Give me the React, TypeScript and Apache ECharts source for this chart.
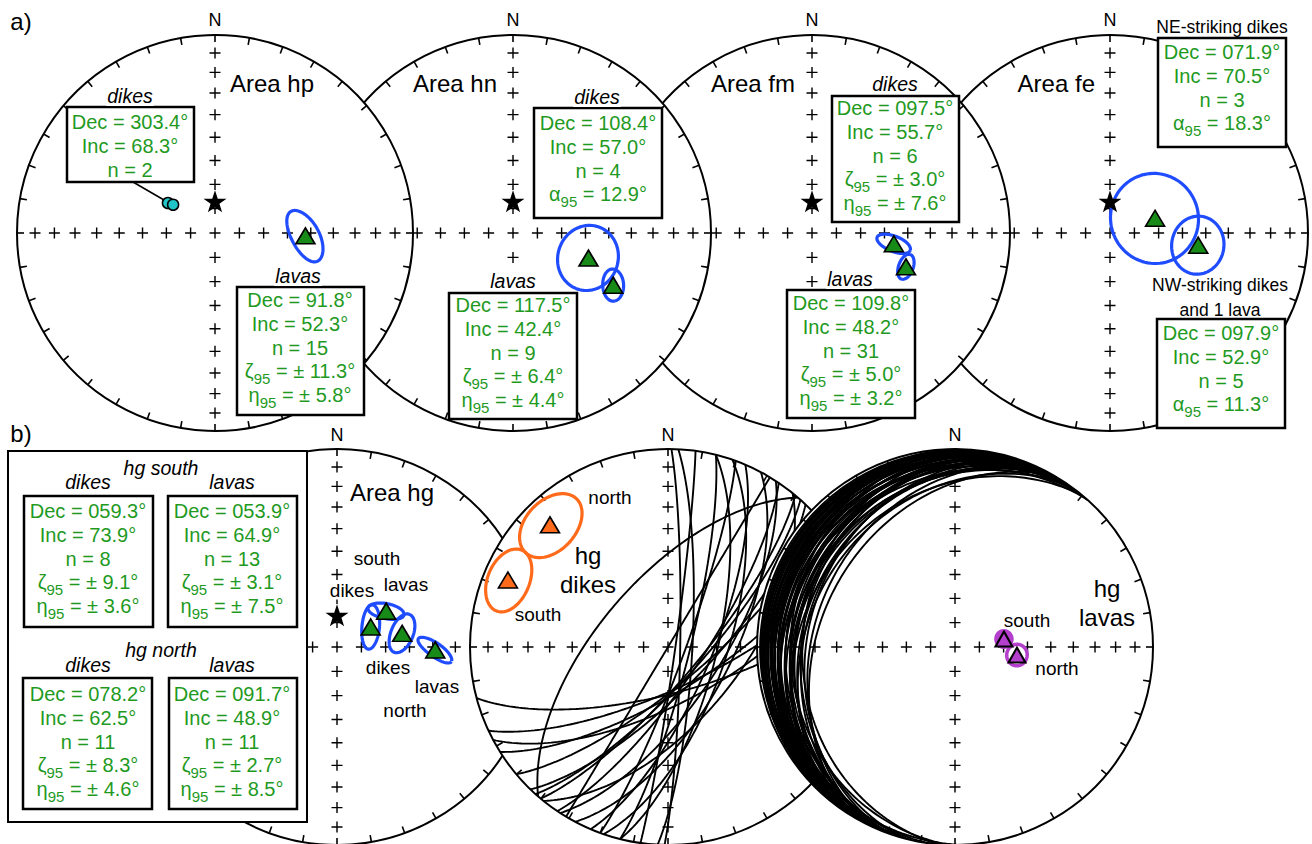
import React, { useEffect, useRef } from "react";
import * as echarts from "echarts";

const FONT = "'Liberation Sans', Arial, Helvetica, sans-serif";
const GREEN_TEXT = "#1f9a1f";
const GREEN_FILL = "#178a17";
const BLUE = "#1f4cff";
const CYAN = "#20c5c8";
const ORANGE = "#ff6b1a";
const MAGENTA = "#b43fcc";

const R = 198;
// panels: 0 hp, 1 hn, 2 fm, 3 fe, 4 hg, 5 hg dikes, 6 hg lavas
const panelCenters: number[][] = [[215, 233], [513, 233], [812, 233], [1110, 233], [337, 647], [668, 647], [955, 647]];
const panelZ = [40, 30, 20, 10, 10, 20, 30];

// expected direction (star)
const starPanels = [0, 1, 2, 3, 4];
const starDec = 0;
const starInc = 77;

// axis "+" marks (inclination values along N, E, S, W) and primitive ticks (azimuths)
const incTicks = [80, 70, 60, 50, 40, 30, 20, 10];
const axisAz = [0, 90, 180, 270];
const rimTickAz = [0, 10, 20, 30, 40, 50, 60, 70, 80, 90, 100, 110, 120, 130, 140, 150, 160, 170, 180, 190, 200, 210, 220, 230, 240, 250, 260, 270, 280, 290, 300, 310, 320, 330, 340, 350];

// green mean directions
const meanPanel = [0, 1, 1, 2, 2, 3, 3, 4, 4, 4, 4];
const meanDec = [91.8, 108.4, 117.5, 97.5, 109.8, 71.9, 97.9, 59.3, 53.9, 78.2, 91.7];
const meanInc = [52.3, 57.0, 42.4, 55.7, 48.2, 70.5, 52.9, 73.9, 64.9, 62.5, 48.9];

// hp individual dikes (cyan)
const hpDikeDec = [302.5, 304.0];
const hpDikeInc = [67.0, 69.2];

// hg dikes mean poles (orange): north, south
const poleDec = [316, 292.7];
const poleInc = [15.3, 13.4];

// hg lavas means (magenta): south, north
const lavaMeanDec = [80.7, 97.4];
const lavaMeanInc = [69.6, 64.2];

// confidence ellipses / circles: semi-angles a (along screen azimuth psi) and b
const ellPanel = [0, 1, 1, 2, 2, 3, 3, 4, 4, 4, 4, 5, 5, 6, 6];
const ellDec = [91.8, 108.4, 117.5, 97.5, 109.8, 71.9, 97.9, 59.3, 53.9, 78.2, 91.7, 316, 292.7, 80.7, 97.4];
const ellInc = [52.3, 57.0, 42.4, 55.7, 48.2, 70.5, 52.9, 73.9, 64.9, 62.5, 48.9, 15.3, 13.4, 69.6, 64.2];
const ellA = [11.3, 12.9, 6.4, 7.6, 5.0, 18.3, 11.3, 9.1, 7.5, 8.3, 8.5, 12, 10.6, 2.6, 4.3];
const ellB = [5.8, 12.9, 4.4, 3.0, 3.2, 18.3, 11.3, 3.6, 3.1, 4.6, 2.7, 13, 10.9, 2.6, 4.3];
const ellPsi = [147, 0, 165, 110, 20, 0, 0, 6, 99, 25, 121, 61, 21, 0, 0];
const ellColor = [BLUE, BLUE, BLUE, BLUE, BLUE, BLUE, BLUE, BLUE, BLUE, BLUE, BLUE, ORANGE, ORANGE, MAGENTA, MAGENTA];
const ellWidth = [3.2, 3.2, 3.2, 3.2, 3.2, 3.2, 3.2, 3.2, 3.2, 3.2, 3.2, 3.2, 3.2, 7, 3.5];

// hg dikes: planes (strike, dip; right-hand rule)
const dikeStrike = [75, 65, 58, 50, 44, 40, 34, 20, 14, 8, 1, 221, 31, 3, 14, 19, 23, 28, 33, 39, 42, 62];
const dikeDip = [71, 73, 72, 75, 73, 77, 76, 83, 81, 87, 85, 62, 90, 80, 70, 66, 72, 64, 68, 60, 76, 67];

// hg lavas: bedding planes (dip direction, dip)
const lavaDipDir = [300, 295, 305, 290, 310, 298, 285, 303, 292, 308, 296, 288, 301, 312, 294, 283, 299, 306, 290, 297, 304, 287, 293, 309, 300, 284, 296, 291, 305, 298, 288, 302, 295, 310, 285, 300, 292, 306, 297, 303, 289, 307, 286, 311, 294, 272, 278, 268, 275];
const lavaDip = [33, 30, 28, 27, 26, 25, 24, 23, 22, 21, 20, 19, 18, 18, 17, 16, 15, 15, 14, 13, 12, 12, 11, 11, 10, 10, 9, 8, 8, 7, 6, 6, 5, 5, 4, 4, 3, 3, 2, 22, 21, 17, 9, 13, 26, 18, 12, 8, 24];

// text boxes
const hpDikesLines = ["Dec = 303.4°", "Inc = 68.3°", "n = 2"];
const hpLavasLines = ["Dec = 91.8°", "Inc = 52.3°", "n = 15", "ζ_95 = ± 11.3°", "η_95 = ± 5.8°"];
const hnDikesLines = ["Dec = 108.4°", "Inc = 57.0°", "n = 4", "α_95 = 12.9°"];
const hnLavasLines = ["Dec = 117.5°", "Inc = 42.4°", "n = 9", "ζ_95 = ± 6.4°", "η_95 = ± 4.4°"];
const fmDikesLines = ["Dec = 097.5°", "Inc = 55.7°", "n = 6", "ζ_95 = ± 3.0°", "η_95 = ± 7.6°"];
const fmLavasLines = ["Dec = 109.8°", "Inc = 48.2°", "n = 31", "ζ_95 = ± 5.0°", "η_95 = ± 3.2°"];
const feNELines = ["Dec = 071.9°", "Inc = 70.5°", "n = 3", "α_95 = 18.3°"];
const feNWLines = ["Dec = 097.9°", "Inc = 52.9°", "n = 5", "α_95 = 11.3°"];
const hgSDikesLines = ["Dec = 059.3°", "Inc = 73.9°", "n = 8", "ζ_95 = ± 9.1°", "η_95 = ± 3.6°"];
const hgSLavasLines = ["Dec = 053.9°", "Inc = 64.9°", "n = 13", "ζ_95 = ± 3.1°", "η_95 = ± 7.5°"];
const hgNDikesLines = ["Dec = 078.2°", "Inc = 62.5°", "n = 11", "ζ_95 = ± 8.3°", "η_95 = ± 4.6°"];
const hgNLavasLines = ["Dec = 091.7°", "Inc = 48.9°", "n = 11", "ζ_95 = ± 2.7°", "η_95 = ± 8.5°"];

const boxes: [number, number, number, number, number, number, string[]][] = [
  [67, 107, 127, 75, 130, 122, hpDikesLines],
  [237, 287, 127, 128, 300, 300, hpLavasLines],
  [534, 108, 128, 110, 598, 123, hnDikesLines],
  [449, 293, 128, 126, 513, 305, hnLavasLines],
  [832, 96, 127, 126, 895, 108, fmDikesLines],
  [787, 290, 128, 128, 851, 303, fmLavasLines],
  [1158, 38, 128, 109, 1222, 52, feNELines],
  [1157, 319, 128, 109, 1221, 333, feNWLines],
  [24, 496, 129, 131, 88, 511, hgSDikesLines],
  [168, 496, 129, 131, 232, 511, hgSLavasLines],
  [23, 678, 129, 131, 88, 694, hgNDikesLines],
  [169, 678, 128, 131, 232, 694, hgNLavasLines],
];

// [text, x, y, size, style, align, whiteBackground]
const labels: [string, number, number, number, string, string, boolean][] = [
  ["a)", 21, 21, 24, "normal", "center", false],
  ["b)", 21, 433, 24, "normal", "center", false],
  ["N", 215, 20, 18, "normal", "center", false],
  ["N", 513, 20, 18, "normal", "center", false],
  ["N", 812, 20, 18, "normal", "center", false],
  ["N", 1110, 20, 18, "normal", "center", false],
  ["N", 337, 435, 18, "normal", "center", false],
  ["N", 668, 435, 18, "normal", "center", false],
  ["N", 955, 435, 18, "normal", "center", false],
  ["Area hp", 230, 83, 24, "normal", "left", false],
  ["Area hn", 497, 83, 24, "normal", "right", false],
  ["Area fm", 795, 83, 24, "normal", "right", false],
  ["Area fe", 1095, 83, 24, "normal", "right", false],
  ["dikes", 130, 96, 19.5, "italic", "center", true],
  ["lavas", 298, 276, 19.5, "italic", "center", true],
  ["dikes", 597, 97, 19.5, "italic", "center", true],
  ["lavas", 513, 281, 19.5, "italic", "center", true],
  ["dikes", 895, 84, 19.5, "italic", "center", true],
  ["lavas", 850, 279, 19.5, "italic", "center", true],
  ["NE-striking dikes", 1222, 27, 17.5, "normal", "center", false],
  ["NW-striking dikes", 1220, 285, 17.5, "normal", "center", false],
  ["and 1 lava", 1220, 310, 17.5, "normal", "center", false],
  ["hg south", 161, 468, 19.5, "italic", "center", false],
  ["dikes", 88, 482, 19.5, "italic", "center", false],
  ["lavas", 232, 482, 19.5, "italic", "center", false],
  ["hg north", 161, 650, 19.5, "italic", "center", false],
  ["dikes", 88, 665, 19.5, "italic", "center", false],
  ["lavas", 232, 665, 19.5, "italic", "center", false],
  ["Area hg", 350, 492, 24, "normal", "left", false],
  ["south", 377, 558, 19, "normal", "center", false],
  ["lavas", 406, 584, 19, "normal", "center", false],
  ["dikes", 352, 590, 19, "normal", "center", true],
  ["dikes", 388, 667, 19, "normal", "center", false],
  ["lavas", 437, 686, 19, "normal", "center", false],
  ["north", 405, 710, 19, "normal", "center", false],
  ["north", 610, 497, 19, "normal", "center", false],
  ["hg", 588, 555, 24, "normal", "center", false],
  ["dikes", 588, 584, 24, "normal", "center", false],
  ["south", 538, 614, 19, "normal", "center", false],
  ["south", 1027, 620, 19, "normal", "center", false],
  ["north", 1057, 668, 19, "normal", "center", false],
  ["hg", 1107, 588, 24, "normal", "center", false],
  ["lavas", 1107, 617, 24, "normal", "center", false],
];

const D2R = Math.PI / 180;
const plusPath = "path://M4.4,0h1.3v4.4h4.4v1.3h-4.4v4.4h-1.3v-4.4h-4.4v-1.3h4.4z";
const starPath = "path://M50,0L61.8,35.3L99,35.3L68.9,57.1L80.3,92.7L50,70.9L19.7,92.7L31.1,57.1L1,35.3L38.2,35.3Z";

function vec(dec: number, inc: number): number[] {
  return [Math.cos(inc * D2R) * Math.cos(dec * D2R), Math.cos(inc * D2R) * Math.sin(dec * D2R), Math.sin(inc * D2R)];
}
function toPolar(v: number[]): number[] {
  let [n, e, d] = v;
  const len = Math.hypot(n, e, d);
  n /= len; e /= len; d /= len;
  if (d < 0) { n = -n; e = -e; d = -d; }
  const inc = Math.asin(Math.min(1, d)) / D2R;
  let dec = Math.atan2(e, n) / D2R;
  if (dec < 0) dec += 360;
  const r = Math.SQRT2 * Math.sin(((90 - inc) / 2) * D2R);
  return [r, dec];
}
function proj(dec: number, inc: number): number[] {
  return toPolar(vec(dec, inc));
}
function ellipsePts(dec: number, inc: number, a: number, b: number, psi: number): number[][] {
  const D = dec * D2R, I = inc * D2R;
  const m = vec(dec, inc);
  const e1 = [-Math.sin(I) * Math.cos(D), -Math.sin(I) * Math.sin(D), Math.cos(I)];
  const e2 = [-Math.sin(D), Math.cos(D), 0];
  const k = (psi - dec) * D2R;
  const u = e1.map((x, j) => -Math.cos(k) * x + Math.sin(k) * e2[j]);
  const w = e1.map((x, j) => Math.sin(k) * x + Math.cos(k) * e2[j]);
  const ta = Math.tan(a * D2R), tb = Math.tan(b * D2R);
  const pts: number[][] = [];
  for (let t = 0; t <= 360; t += 4) {
    const c = Math.cos(t * D2R), s = Math.sin(t * D2R);
    pts.push(toPolar(m.map((x, j) => x + ta * c * u[j] + tb * s * w[j])));
  }
  return pts;
}
function greatCircle(strike: number, dip: number): number[][] {
  const s = [Math.cos(strike * D2R), Math.sin(strike * D2R), 0];
  const dd = (strike + 90) * D2R, dp = dip * D2R;
  const d = [Math.cos(dp) * Math.cos(dd), Math.cos(dp) * Math.sin(dd), Math.sin(dp)];
  const pts: number[][] = [];
  for (let p = 0; p <= 180; p += 1.5) {
    const c = Math.cos(p * D2R), sn = Math.sin(p * D2R);
    pts.push(toPolar([c * s[0] + sn * d[0], c * s[1] + sn * d[1], Math.max(1e-9, c * s[2] + sn * d[2])]));
  }
  return pts;
}

function txt(text: string, x: number, y: number, size: number, fstyle: string, align: string, bg = false, fill = "#000") {
  const style: any = { text, x, y, fill, fontSize: size, fontFamily: FONT, fontStyle: fstyle, textAlign: align, align, textVerticalAlign: "middle", verticalAlign: "middle" };
  if (bg) { style.backgroundColor = "#fff"; style.padding = [0, 1, 0, 1]; }
  return { type: "text", z: 102, silent: true, style };
}
function valueLine(s: string, cx: number, y: number) {
  const m = s.match(/^(.)_95(.*)$/);
  if (!m) return txt(s, cx, y, 20, "normal", "center", false, GREEN_TEXT);
  return {
    type: "text", z: 101, silent: true,
    style: {
      text: `{m|${m[1]}}{s|95}{m|${m[2]}}`,
      x: cx, y: y - 10, fill: GREEN_TEXT, fontSize: 20, fontFamily: FONT,
      textAlign: "center", align: "center", textVerticalAlign: "top", verticalAlign: "top",
      rich: {
        m: { fontSize: 20, lineHeight: 20, verticalAlign: "top", fill: GREEN_TEXT, color: GREEN_TEXT, fontFamily: FONT },
        s: { fontSize: 15, lineHeight: 35, verticalAlign: "middle", fill: GREEN_TEXT, color: GREEN_TEXT, fontFamily: FONT },
      },
    },
  };
}

function buildOption() {
  const polar = panelCenters.map((c) => ({ center: c, radius: R }));
  const angleAxis = panelCenters.map((_, i) => ({
    polarIndex: i, type: "value", min: 0, max: 360, interval: 10, startAngle: 90, clockwise: true,
    axisLine: { show: false }, axisTick: { show: false },
    axisLabel: { show: false }, splitLine: { show: false },
  }));
  const radiusAxis = panelCenters.map((_, i) => ({
    polarIndex: i, type: "value", min: 0, max: 1,
    axisLine: { show: false }, axisTick: { show: false }, axisLabel: { show: false }, splitLine: { show: false },
  }));

  const series: any[] = [];
  const base = { coordinateSystem: "polar", silent: true, emphasis: { disabled: true } };
  const tickLen = 7 / R;
  panelCenters.forEach((_, i) => {
    const z = panelZ[i];
    series.push({ ...base, type: "scatter", polarIndex: i, z, data: [[0, 0]], symbol: "circle", symbolSize: 2 * R,
      itemStyle: { color: "#fff", borderColor: "#000", borderWidth: 2, opacity: 1 } });
    series.push({ ...base, type: "scatter", polarIndex: i, z: z + 1,
      data: rimTickAz.map((a) => ({ value: [1 - tickLen / 2, a], symbolRotate: -a })),
      symbol: "rect", symbolSize: [1.6, 7], itemStyle: { color: "#000", opacity: 1 } });
    const plusData: number[][] = [[0, 0]];
    axisAz.forEach((a) => incTicks.forEach((inc) => plusData.push(proj(a, inc))));
    series.push({ ...base, type: "scatter", polarIndex: i, z: z + 2, data: plusData, symbol: plusPath, symbolSize: 11,
      itemStyle: { color: "#000", opacity: 1 } });
  });

  // great circles
  dikeStrike.forEach((s, k) => {
    series.push({ ...base, type: "line", polarIndex: 5, z: panelZ[5] + 3, data: greatCircle(s, dikeDip[k]), symbol: "none",
      lineStyle: { color: "#000", width: 1.9 } });
  });
  lavaDipDir.forEach((dd, k) => {
    series.push({ ...base, type: "line", polarIndex: 6, z: panelZ[6] + 3, data: greatCircle(dd - 90, lavaDip[k]), symbol: "none",
      lineStyle: { color: "#000", width: 1.9 } });
  });

  // ellipses
  ellDec.forEach((d, k) => {
    const p = ellPanel[k];
    series.push({ ...base, type: "line", polarIndex: p, z: panelZ[p] + 4, data: ellipsePts(d, ellInc[k], ellA[k], ellB[k], ellPsi[k]),
      symbol: "none", lineStyle: { color: ellColor[k], width: ellWidth[k] } });
  });

  // stars
  starPanels.forEach((p) => {
    series.push({ ...base, type: "scatter", polarIndex: p, z: panelZ[p] + 5, data: [proj(starDec, starInc)], symbol: starPath,
      symbolSize: [23, 22], itemStyle: { color: "#000", opacity: 1 } });
  });

  // green means
  panelCenters.forEach((_, p) => {
    const data: number[][] = [];
    meanPanel.forEach((mp, k) => { if (mp === p) data.push(proj(meanDec[k], meanInc[k])); });
    if (data.length) {
      series.push({ ...base, type: "scatter", polarIndex: p, z: panelZ[p] + 5, data, symbol: "triangle", symbolSize: [19, 16],
        itemStyle: { color: GREEN_FILL, borderColor: "#000", borderWidth: 1.6, opacity: 1 } });
    }
  });

  // cyan hp dikes
  series.push({ ...base, type: "scatter", polarIndex: 0, z: panelZ[0] + 5, data: hpDikeDec.map((d, k) => proj(d, hpDikeInc[k])),
    symbol: "circle", symbolSize: 11, itemStyle: { color: CYAN, borderColor: "#000", borderWidth: 1.5, opacity: 1 } });
  // orange poles
  series.push({ ...base, type: "scatter", polarIndex: 5, z: panelZ[5] + 5, data: poleDec.map((d, k) => proj(d, poleInc[k])),
    symbol: "triangle", symbolSize: [19, 16], itemStyle: { color: ORANGE, borderColor: "#000", borderWidth: 1.6, opacity: 1 } });
  // magenta lava means
  series.push({ ...base, type: "scatter", polarIndex: 6, z: panelZ[6] + 5, data: lavaMeanDec.map((d, k) => proj(d, lavaMeanInc[k])),
    symbol: "triangle", symbolSize: [17, 15], itemStyle: { color: MAGENTA, borderColor: "#000", borderWidth: 2, opacity: 1 } });

  // graphics
  const elements: any[] = [];
  elements.push({ type: "rect", z: 99, silent: true, shape: { x: 8, y: 451, width: 299, height: 371 },
    style: { fill: "#fff", stroke: "#000", lineWidth: 2 } });
  elements.push({ type: "line", z: 99, silent: true, shape: { x1: 133, y1: 182, x2: 164, y2: 200 },
    style: { stroke: "#000", lineWidth: 1.5 } });
  boxes.forEach(([x, y, w, h, cx, fy, lines]) => {
    elements.push({ type: "rect", z: 100, silent: true, shape: { x, y, width: w, height: h },
      style: { fill: "#fff", stroke: "#000", lineWidth: 2.5 } });
    lines.forEach((s, k) => elements.push(valueLine(s, cx, fy + k * 23.8)));
  });
  labels.forEach(([t, x, y, size, fs, al, bg]) => elements.push(txt(t, x, y, size, fs, al, bg)));

  return { animation: false, polar, angleAxis, radiusAxis, series, graphic: { elements } };
}

export default function App() {
  const ref = useRef<HTMLDivElement>(null);
  useEffect(() => {
    const chart = echarts.init(ref.current!, null, { renderer: "svg" });
    chart.setOption(buildOption() as any);
    return () => chart.dispose();
  }, []);
  return <div ref={ref} style={{ position: "absolute", left: 0, top: 0, width: 1312, height: 844, background: "#fff" }} />;
}
